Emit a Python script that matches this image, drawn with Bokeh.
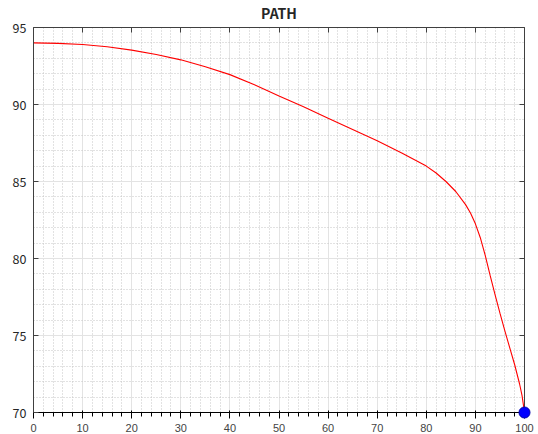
from bokeh.plotting import figure
from bokeh.models import Range1d, SingleIntervalTicker, LinearAxis, ColumnDataSource
from bokeh.embed import file_html
from bokeh.resources import INLINE

# data
path_x = [0, 5, 10, 15, 20, 25, 30, 35, 40, 45, 50, 55, 60, 65, 70, 75, 80, 82, 84, 86, 88, 89, 90,
          91, 92, 93, 94, 95, 96, 97, 98, 99, 99.5, 100]
path_y = [94.0, 93.97, 93.9, 93.75, 93.53, 93.25, 92.9, 92.45, 91.94, 91.28, 90.55, 89.85, 89.1, 88.38,
          87.65, 86.85, 86.0, 85.55, 85.0, 84.35, 83.5, 82.95, 82.25, 81.35, 80.2, 78.9, 77.65, 76.45,
          75.3, 74.2, 73.1, 71.85, 71.1, 70.0]
end_x = [100]
end_y = [70]
title_text = "PATH"

FONT = "Noto Sans CJK JP"
AX = "#404040"

p = figure(width=538, height=434, output_backend="svg", toolbar_location=None,
           x_range=Range1d(0, 100), y_range=Range1d(70, 95),
           min_border_left=33, min_border_right=14, min_border_top=24, min_border_bottom=22,
           title=title_text)
p.title.align = "center"
p.title.text_font = FONT
p.title.text_font_size = "14px"
p.title.text_font_style = "bold"
p.title.text_color = "#262626"
p.title.standoff = 1
p.outline_line_color = None

xt = SingleIntervalTicker(interval=10, num_minor_ticks=5)
yt = SingleIntervalTicker(interval=5, num_minor_ticks=5)
p.xaxis.ticker = xt
p.yaxis.ticker = yt

top = LinearAxis(ticker=xt)
right = LinearAxis(ticker=yt)
p.add_layout(top, "above")
p.add_layout(right, "right")

for ax in [p.xaxis[0], p.yaxis[0], top, right]:
    ax.axis_line_color = AX
    ax.axis_line_width = 1
    ax.major_tick_line_color = AX
    ax.major_tick_in = 5
    ax.major_tick_out = 0
    ax.minor_tick_line_color = None
    ax.major_label_text_font = FONT
    ax.major_label_text_font_size = "12.5px"
    ax.major_label_text_color = "#262626"
for ax in [top, right]:
    ax.major_label_text_font_size = "0px"
    ax.major_label_standoff = 0
p.xaxis[0].major_label_standoff = 7
p.yaxis[0].major_label_standoff = 3

for g in [p.xgrid[0], p.ygrid[0]]:
    g.grid_line_color = "#e3e3e3"
    g.grid_line_width = 1
    g.minor_grid_line_color = "#c4c4c4"
    g.minor_grid_line_dash = "1 2"
    g.minor_grid_line_width = 1

src = ColumnDataSource(dict(x=path_x, y=path_y))
p.line("x", "y", source=src, line_color="#ff0000", line_width=1.1)
p.scatter(end_x, end_y, size=11, fill_color="#0000ff", line_color="#0000aa", line_width=1,
          level="overlay")

open("out.html", "w").write(file_html(p, INLINE))
